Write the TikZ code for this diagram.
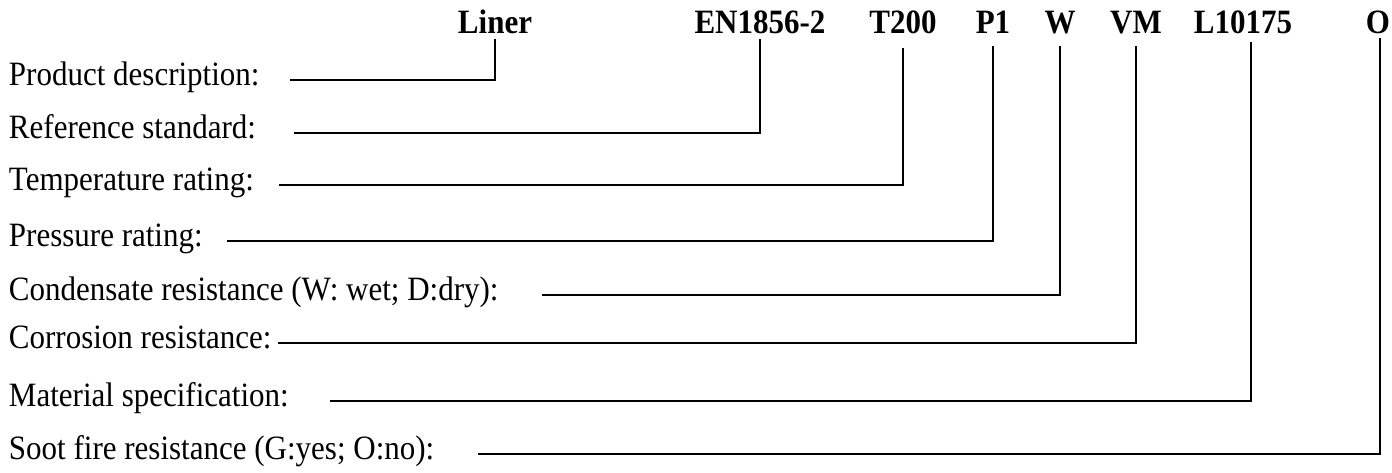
\documentclass[tikz,border=0pt]{standalone}
\usepackage{graphicx}
\usepackage{fontspec}
\setmainfont{Liberation Serif}
\newcommand{\tallt}[1]{\scalebox{1}[1.1]{#1}}
\begin{document}
\begin{tikzpicture}[x=1pt,y=-1pt,
  code/.style={font=\fontsize{31}{36}\selectfont\bfseries, anchor=base, inner sep=0pt, outer sep=0pt},
  lbl/.style={font=\fontsize{31}{36}\selectfont, anchor=base west, inner sep=0pt, outer sep=0pt},
  conn/.style={line width=1.9pt}]
\useasboundingbox (0,0) rectangle (1392,472);
% top code parts
\node[code] (t1) at (495,33) {\tallt{Liner}};
\node[code] (t2) at (760,33) {\tallt{EN1856-2}};
\node[code] (t3) at (903,33) {\tallt{T200}};
\node[code] (t4) at (993,33) {\tallt{P1}};
\node[code] (t5) at (1060,33) {\tallt{W}};
\node[code] (t6) at (1136,33) {\tallt{VM}};
\node[code] (t7) at (1243,33) {\tallt{L10175}};
\node[code] (t8) at (1378,33) {\tallt{O}};
% left labels
\node[lbl] (l1) at (9,85) {\tallt{Product description:}};
\node[lbl] (l2) at (9,138) {\tallt{Reference standard:}};
\node[lbl] (l3) at (9,190) {\tallt{Temperature rating:}};
\node[lbl] (l4) at (9,246) {\tallt{Pressure rating:}};
\node[lbl] (l5) at (9,300) {\tallt{Condensate resistance (W: wet; D:dry):}};
\node[lbl] (l6) at (9,348) {\tallt{Corrosion resistance:}};
\node[lbl] (l7) at (9,406) {\tallt{Material specification:}};
\node[lbl] (l8) at (9,459) {\tallt{Soot fire resistance (G:yes; O:no):}};
% line starts
\coordinate (s1) at (290,80);
\coordinate (s2) at (294,133);
\coordinate (s3) at (279,185);
\coordinate (s4) at (227,241);
\coordinate (s5) at (542,295);
\coordinate (s6) at (278,343);
\coordinate (s7) at (330,401);
\coordinate (s8) at (478,454);
% connectors
\draw[conn] (s1) -| ([yshift=-6pt]t1.south);
\draw[conn] (s2) -| ([yshift=-6pt]t2.south);
\draw[conn] (s3) -| ([yshift=-15pt]t3.south);
\draw[conn] (s4) -| ([yshift=-13pt]t4.south);
\draw[conn] (s5) -| ([yshift=-12pt]t5.south);
\draw[conn] (s6) -| ([yshift=-12pt]t6.south);
\draw[conn] (s7) -| ([xshift=8pt,yshift=-9pt]t7.south);
\draw[conn] (s8) -| ([xshift=2pt,yshift=-5pt]t8.south);
\end{tikzpicture}
\end{document}
